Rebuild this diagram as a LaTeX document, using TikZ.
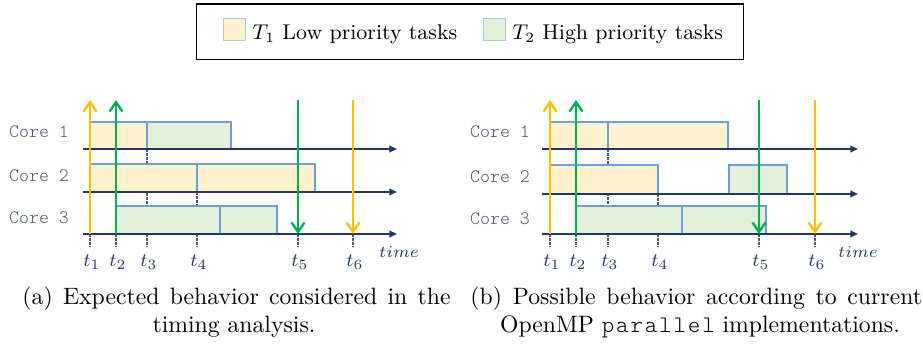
\documentclass[tikz,border=0pt]{standalone}
\usepackage{fontspec}
\setmonofont{Latin Modern Mono Light}
\newfontfamily\codefont{Latin Modern Mono Light}[LetterSpace=8]
\usetikzlibrary{arrows.meta}

\definecolor{lowfill}{HTML}{FFF2CC}
\definecolor{highfill}{HTML}{E2EFDA}
\definecolor{taskedge}{HTML}{6C9FD6}
\definecolor{keyedge}{HTML}{A9C8D8}
\definecolor{axisnavy}{HTML}{203864}
\definecolor{relyellow}{HTML}{FFC000}
\definecolor{relgreen}{HTML}{00B050}
\definecolor{labelgray}{HTML}{4A5870}

\begin{document}
\begin{tikzpicture}[x=0.4219pt,y=-0.4219pt,
  task/.style={draw=taskedge,line width=0.55pt},
  low/.style={task,fill=lowfill},
  high/.style={task,fill=highfill},
  timeaxis/.style={draw=axisnavy,line width=0.8pt,-{Triangle[length=3.2pt,width=2.8pt]}},
  release/.style={line width=1pt,-{Straight Barb[length=4pt,width=5.5pt,line width=1pt]}},
  tick/.style={draw=labelgray,line width=0.45pt,dash pattern=on 1.2pt off 0.5pt},
  corelabel/.style={font=\fontsize{8}{9}\ttfamily,text=labelgray,inner sep=0},
  tlabel/.style={font=\fontsize{8}{9}\selectfont,text=axisnavy,anchor=base,inner sep=0},
  timelabel/.style={font=\fontsize{7.5}{9}\selectfont,text=axisnavy,anchor=base,inner sep=0},
  legendtext/.style={font=\small,anchor=base west,inner sep=0},
  keybox/.style={draw=keyedge,line width=0.4pt,minimum size=9.3pt,inner sep=0},
  caption/.style={inner sep=0},
]
\useasboundingbox (0,0) rectangle (923,345);

% ---------- legend ----------
\node (legend) [draw,line width=0.45pt,inner sep=0,minimum width=230.4pt,minimum height=23.6pt] at (470,32) {};
\node (lowkey)  [keybox,fill=lowfill]  at (234.5,29.5) {};
\node (lowtext) [legendtext] at (252,40) {$T_1$ Low priority tasks};
\node (highkey)  [keybox,fill=highfill] at (494.5,29.5) {};
\node (hightext) [legendtext] at (512,40) {$T_2$ High priority tasks};

% ---------- (a) expected behaviour ----------
\foreach \n/\x in {1/90,2/116,3/147,4/197,5/298,6/353} {
  \coordinate (a-t\n) at (\x,234);
  \coordinate (a-b\n) at (\x,247);
  \coordinate (a-r\n) at (\x,100);
  \node[tlabel] (a-l\n) at (\x+2,267) {$t_{\n}$};
  \draw[tick] (a-t\n) -- (a-b\n);
}
\coordinate (a-t3top) at (147,149);
\coordinate (a-t4top) at (197,192);
\draw[tick] (a-t3top) -- (a-t3);
\draw[tick] (a-t4top) -- (a-t4);

\draw[low]  (90,122) rectangle (147,149);
\draw[high] (147,122) rectangle (231,149);
\draw[low]  (90,164) rectangle (197,192);
\draw[low]  (197,164) rectangle (315,192);
\draw[high] (116,206) rectangle (220,234);
\draw[high] (220,206) rectangle (277,234);

\foreach \k/\y in {1/149,2/192,3/234} {
  \coordinate (a-s\k) at (83,\y);
  \coordinate (a-e\k) at (397,\y);
  \draw[timeaxis] (a-s\k) -- (a-e\k);
}
\node[corelabel] (a-c1) at (39,132) {Core 1};
\node[corelabel] (a-c2) at (39,176) {Core 2};
\node[corelabel] (a-c3) at (39,218) {Core 3};
\node[timelabel] (a-time) at (399,258) {$time$};

\draw[release,relyellow] (a-t1) -- (a-r1);
\draw[release,relgreen]  (a-t2) -- (a-r2);
\draw[release,relgreen]  (a-r5) -- (a-t5);
\draw[release,relyellow] (a-r6) -- (a-t6);

% ---------- (b) current OpenMP behaviour ----------
\foreach \n/\x in {1/550,2/576,3/608,4/658,5/759,6/815} {
  \coordinate (b-t\n) at (\x,234);
  \coordinate (b-b\n) at (\x,247);
  \coordinate (b-r\n) at (\x,100);
  \node[tlabel] (b-l\n) at (\x+2,267) {$t_{\n}$};
  \draw[tick] (b-t\n) -- (b-b\n);
}
\coordinate (b-t3top) at (608,149);
\coordinate (b-t4top) at (658,194);
\draw[tick] (b-t3top) -- (b-t3);
\draw[tick] (b-t4top) -- (b-t4);

\draw[low]  (550,122) rectangle (608,149);
\draw[low]  (608,122) rectangle (728,149);
\draw[low]  (550,165) rectangle (658,194);
\draw[high] (729,165) rectangle (787,194);
\draw[high] (576,206) rectangle (682,234);
\draw[high] (682,206) rectangle (766,234);

\foreach \k/\y in {1/149,2/194,3/234} {
  \coordinate (b-s\k) at (542,\y);
  \coordinate (b-e\k) at (858,\y);
  \draw[timeaxis] (b-s\k) -- (b-e\k);
}
\node[corelabel] (b-c1) at (500,132) {Core 1};
\node[corelabel] (b-c2) at (500,177) {Core 2};
\node[corelabel] (b-c3) at (500,219) {Core 3};
\node[timelabel] (b-time) at (858,258) {$time$};

\draw[release,relyellow] (b-t1) -- (b-r1);
\draw[release,relgreen]  (b-t2) -- (b-r2);
\draw[release,relgreen]  (b-r5) -- (b-t5);
\draw[release,relyellow] (b-r6) -- (b-t6);

% ---------- sub-captions ----------
\node (capA1) [caption,anchor=base west] at (22,305)
  {\makebox[180.6pt][s]{(a) Expected behavior considered in the}};
\node (capA2) [caption,anchor=base] at (234,333) {timing analysis.};
\node (capB1) [caption,anchor=base west] at (470,305)
  {\makebox[190.5pt][s]{(b) Possible behavior according to current}};
\node (capB2) [caption,anchor=base] at (700,333) {OpenMP {\codefont parallel} implementations.};
\end{tikzpicture}
\end{document}
